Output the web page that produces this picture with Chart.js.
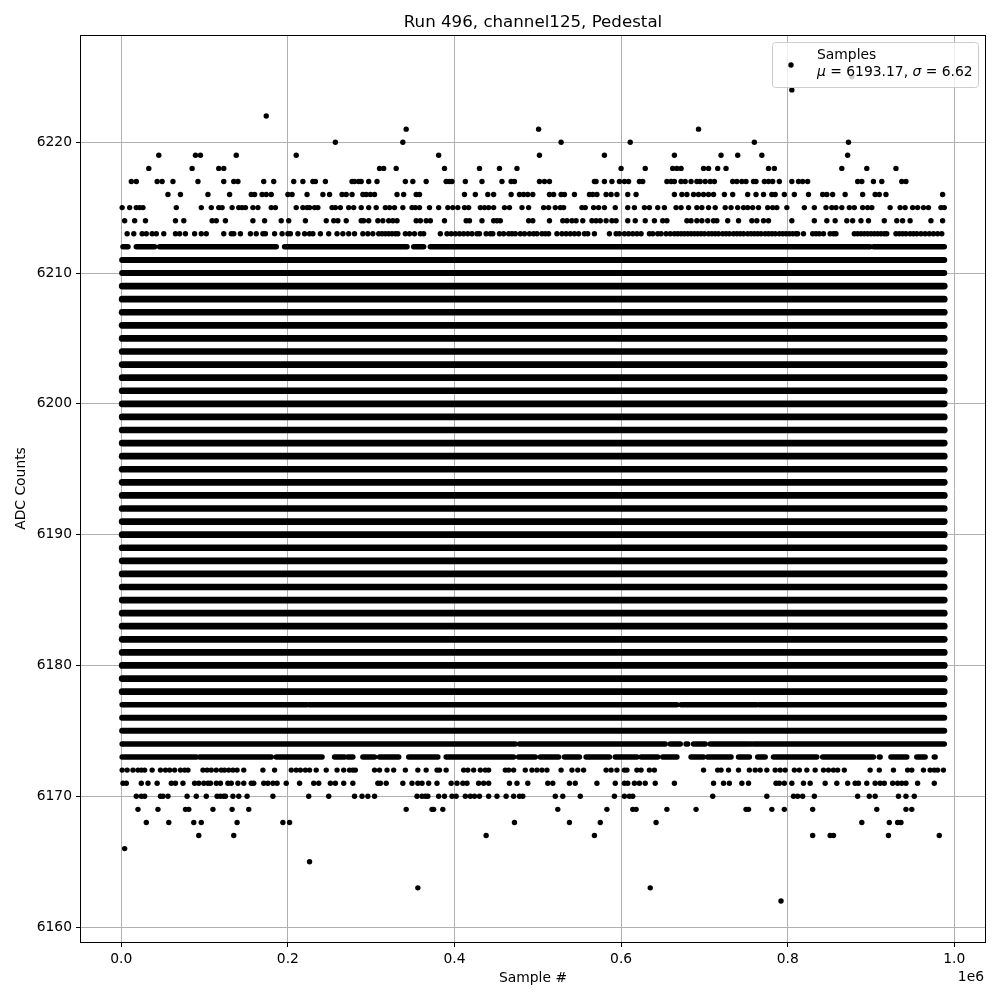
<!DOCTYPE html>
<html>
<head>
<meta charset="utf-8">
<title>Run 496, channel125, Pedestal</title>
<script src="https://cdn.jsdelivr.net/npm/chart.js@4"></script>
<style>
    html, body { margin: 0; padding: 0; background: #fff; }
    canvas { display: block; }
</style>
</head>
<body>
<canvas id="pedestalChart" width="1000" height="1000"></canvas>
<script>
// sample numbers are in thousands
const yTicks = [6160, 6170, 6180, 6190, 6200, 6210, 6220];
const xTicks = [0, 200000, 400000, 600000, 800000, 1000000];
const xTickLabels = ['0.0', '0.2', '0.4', '0.6', '0.8', '1.0'];

// single samples on the sparse rows
const s6225 = [877];
const s6224 = [805];
const s6222 = [174];
const s6221 = [342, 501, 693];
const s6220 = [257, 338, 528, 611, 760, 873];
const s6219 = [45, 89, 95, 138, 210, 381, 502, 580, 664, 720, 740, 769, 872];
const s6218 = [33, 85, 117, 123, 310, 315, 330, 388, 430, 454, 475, 600, 629, 662, 667, 672, 699, 705, 716, 726, 777, 784, 865, 895, 930];
const s6217 = [12, 18, 43, 49, 62, 92, 123, 135, 140, 171, 183, 207, 218, 230, 233, 245, 277, 280, 285, 288, 297, 307,
    341, 350, 366, 390, 394, 397, 413, 433, 457, 468, 472, 502, 508, 514, 568, 570, 580, 589, 598, 604, 609, 622, 626, 655, 660, 664,
    672, 677, 684, 691, 695, 701, 707, 712, 734, 739, 745, 750, 759, 762, 772, 777, 782, 790, 805, 813, 818, 824, 884, 889, 903, 913, 937, 942];
const s6216 = [56, 71, 104, 130, 156, 160, 169, 174, 180, 200, 205, 223, 242, 250, 265, 270, 277, 290, 294, 299, 304, 331,
    339, 354, 358, 412, 425, 440, 447, 468, 478, 483, 488, 494, 514, 519, 528, 532, 544, 562, 566, 571, 582, 588, 595, 608, 618, 664,
    673, 679, 687, 693, 699, 705, 711, 724, 734, 752, 762, 771, 781, 785, 796, 808, 825, 842, 847, 854, 869, 890, 905, 910, 918, 986];
const s6215 = [1, 10, 18, 22, 26, 66, 96, 108, 117, 121, 133, 141, 145, 149, 158, 164, 180, 185, 210, 218, 223, 226, 232, 236, 253, 257, 263, 273, 279, 288, 297, 306, 317, 322, 328,
    338, 349, 353, 358, 370, 381, 392, 398, 404, 412, 417, 431, 436, 441, 447, 460, 466, 481, 489, 507, 513, 521, 527, 531, 553, 557, 567, 573, 580, 593, 608, 616, 628, 634, 644, 652, 666,
    672, 681, 691, 697, 705, 713, 725, 732, 740, 747, 752, 758, 765, 776, 782, 787, 799, 820, 832, 846, 853, 858, 865, 874, 880, 890, 896, 901, 923, 935, 941, 950, 956, 963, 969, 984, 988];
const s6214 = [4, 16, 29, 65, 75, 109, 114, 125, 158, 172, 192, 201, 221, 246, 255, 260, 270, 288, 291, 297, 308, 314, 321, 326, 331,
    354, 359, 366, 371, 388, 414, 418, 433, 447, 451, 455, 489, 494, 514, 530, 535, 541, 546, 554, 565, 570, 575, 582, 589, 594, 608, 617, 629, 640, 650, 655,
    679, 684, 691, 697, 704, 711, 715, 728, 741, 757, 763, 771, 777, 805, 832, 847, 857, 871, 878, 888, 897, 916, 931, 938, 947, 972, 986];
const s6213 = [7, 15, 25, 30, 37, 42, 51, 65, 70, 77, 88, 96, 102, 123, 132, 135, 143, 155, 162, 170, 173, 184, 193, 200, 203, 212, 220, 226, 230, 239, 249, 259, 266, 273, 280, 290, 296, 302, 309, 313, 317, 321, 325, 329, 332,
    341, 346, 352, 359, 363, 383, 391, 396, 401, 406, 411, 416, 421, 427, 430, 438, 443, 446, 454, 459, 465, 469, 473, 479, 484, 490, 495, 499, 505, 509, 513,
    523, 529, 534, 539, 544, 549, 556, 560, 568, 586, 594, 598, 604, 609, 614, 619, 624, 634, 638, 644, 648, 654, 659, 664, 668,
    672, 676, 680, 684, 688, 692, 696, 700, 705, 709, 713, 717, 722, 726, 730, 735, 739, 743, 747, 752, 756, 760, 764, 768, 773, 777, 781, 785, 790, 794, 798, 802, 806, 810, 812,
    819, 830, 834, 838, 843, 851, 855, 858, 880, 884, 888, 892, 896, 900, 904, 908, 912, 916, 919, 930, 934, 938, 942, 947, 951, 955, 960, 965, 970, 975, 980, 985];
const s6172 = [1, 7, 14, 20, 24, 28, 37, 47, 53, 58, 64, 71, 76, 80, 98, 103, 108, 114, 120, 124, 129, 134, 139, 147, 170, 184, 204, 210, 215, 221, 226, 234, 246, 259, 267, 274, 278, 281, 304, 310, 319, 327,
    341, 356, 366, 379, 382, 390, 411, 416, 423, 431, 437, 441, 461, 465, 471, 485, 493, 499, 505, 511, 528, 541, 548, 555, 582, 588, 595, 604, 607, 619, 624, 634, 640,
    699, 716, 720, 729, 741, 754, 761, 767, 775, 785, 791, 797, 808, 814, 823, 833, 843, 849, 855, 860, 868, 899, 910, 927, 944, 949, 963, 971, 976, 980, 987];
const s6171 = [2, 6, 24, 32, 43, 60, 65, 74, 88, 93, 99, 104, 107, 114, 119, 128, 132, 140, 147, 156, 159, 171, 176, 182, 187, 198, 214, 231, 237, 251, 257, 267, 278, 308, 311, 318,
    338, 349, 356, 361, 369, 379, 396, 403, 410, 415, 429, 435, 441, 466, 475, 488, 512, 518, 538, 545, 571, 593, 604, 608, 616, 622, 629, 641, 664,
    711, 723, 730, 745, 753, 786, 790, 796, 805, 819, 827, 845, 859, 872, 881, 885, 895, 905, 911, 916, 926, 932, 937, 942, 956, 976];
const s6170 = [18, 24, 28, 47, 50, 56, 79, 90, 102, 115, 119, 123, 125, 134, 141, 151, 182, 225, 249, 280, 289, 296, 304,
    355, 361, 365, 368, 381, 388, 397, 402, 413, 419, 424, 430, 441, 451, 462, 471, 478, 482, 521, 530, 551, 592, 604, 610, 614,
    710, 775, 807, 812, 818, 832, 884, 898, 905, 933, 942, 952];
const s6169 = [20, 44, 77, 81, 110, 133, 153, 342, 373, 375, 386, 524, 583, 614, 618, 655, 690, 750, 753, 781, 796, 830, 907, 942, 949];
const s6168 = [30, 57, 87, 96, 139, 194, 202, 472, 538, 575, 642, 889, 922, 932, 936];
const s6167 = [93, 135, 438, 568, 830, 851, 855, 921, 982];
const s6166 = [4];
const s6165 = [226];
const s6163 = [356, 635];
const s6162 = [792];

const sparseLevels = [6225, 6224, 6222, 6221, 6220, 6219, 6218, 6217, 6216, 6215, 6214, 6213, 6172, 6171, 6170, 6169, 6168, 6167, 6166, 6165, 6163, 6162];
const sparseSamples = [s6225, s6224, s6222, s6221, s6220, s6219, s6218, s6217, s6216, s6215, s6214, s6213, s6172, s6171, s6170, s6169, s6168, s6167, s6166, s6165, s6163, s6162];

// unbroken runs of samples [first, last] on the busy rows
const r6212 = [[2, 8], [18, 40], [46, 186], [196, 343], [351, 363], [371, 899], [903, 988]];
const r6177 = [[1, 223], [226, 667], [672, 763], [766, 988]];
const r6174 = [[1, 473], [478, 653], [659, 671], [678, 680], [687, 701], [707, 756], [759, 988]];
const r6173 = [[1, 90], [94, 180], [186, 241], [256, 268], [272, 278], [290, 304], [310, 333], [345, 380], [390, 471], [477, 497], [503, 525], [532, 550], [558, 586], [593, 619], [624, 644], [650, 667], [684, 699], [704, 732], [741, 754], [764, 773], [783, 835], [842, 903], [910, 911], [924, 943], [955, 965], [976, 977]];
const runLevels = [6212, 6177, 6174, 6173];
const runSpans = [r6212, r6177, r6174, r6173];

// rows that are filled from end to end
const fullLevels = [6211, 6210, 6209, 6208, 6207, 6206, 6205, 6204, 6203, 6202, 6201, 6200, 6199, 6198, 6197, 6196, 6195, 6194, 6193, 6192, 6191, 6190, 6189, 6188, 6187, 6186, 6185, 6184, 6183, 6182, 6181, 6180, 6179, 6178, 6176, 6175];
const fullSpan = [1, 988];

const datasets = [];

function addRun(level, span, width) {
    datasets.push({
        data: [{ x: span[0] * 1000, y: level }, { x: span[1] * 1000, y: level }],
        showLine: true,
        pointRadius: 0,
        borderColor: '#000',
        borderWidth: width,
        borderCapStyle: 'round'
    });
}

// the outermost full rows are a little thinner than the middle ones
fullLevels.forEach(level => addRun(level, fullSpan, level > 6209 || level < 6177 ? 6 : 6.7));
runLevels.forEach((level, i) => runSpans[i].forEach(span => addRun(level, span, 5.5)));

sparseLevels.forEach((level, i) => {
    datasets.push({
        data: sparseSamples[i].map(k => ({ x: k * 1000, y: level })),
        pointRadius: 2.7,
        pointBorderWidth: 0,
        backgroundColor: '#000'
    });
});

const font = 'DejaVu Sans';

// frame on all four sides, the 1e6 offset and the legend box
const extras = {
    id: 'extras',
    afterDatasetsDraw(chart) {
        const ctx = chart.ctx;
        const area = chart.chartArea;
        ctx.save();

        ctx.strokeStyle = '#000';
        ctx.lineWidth = 1;
        ctx.strokeRect(area.left - 0.5, area.top + 0.5, area.right - area.left + 1, area.bottom - area.top);

        ctx.fillStyle = '#000';
        ctx.font = `13.89px "${font}"`;
        ctx.textAlign = 'right';
        ctx.textBaseline = 'alphabetic';
        ctx.fillText('1e6', 984, 981);

        ctx.beginPath();
        ctx.roundRect(772.5, 42.5, 206, 45, 3);
        ctx.fillStyle = 'rgba(255,255,255,0.8)';
        ctx.fill();
        ctx.strokeStyle = '#ccc';
        ctx.stroke();

        ctx.fillStyle = '#000';
        ctx.beginPath();
        ctx.arc(791, 65, 2.7, 0, Math.PI * 2);
        ctx.fill();

        ctx.textAlign = 'left';
        ctx.fillText('Samples', 817, 59);

        const parts = [['\u03bc', true], [' = 6193.17, ', false], ['\u03c3', true], [' = 6.62', false]];
        let x = 817;
        parts.forEach(([text, italic]) => {
            ctx.font = `${italic ? 'italic ' : ''}13.89px "${font}"`;
            ctx.fillText(text, x, 76);
            x += ctx.measureText(text).width;
        });
        ctx.restore();
    }
};

new Chart(document.getElementById('pedestalChart').getContext('2d'), {
    type: 'scatter',
    data: { datasets },
    options: {
        responsive: false,
        animation: false,
        layout: { padding: { right: 15 } },
        plugins: {
            legend: { display: false },
            tooltip: { enabled: false },
            title: {
                display: true,
                text: 'Run 496, channel125, Pedestal',
                fullSize: false,
                color: '#000',
                font: { family: font, size: 16.67, weight: 'normal', lineHeight: 1.2 },
                padding: { top: 13, bottom: 2 }
            }
        },
        scales: {
            x: {
                type: 'linear',
                min: -48400,
                max: 1036900,
                afterBuildTicks: scale => { scale.ticks = xTicks.map(value => ({ value })); },
                afterFit: scale => { scale.height = 58; },
                grid: { color: '#b0b0b0', lineWidth: 1, tickColor: '#000', tickLength: 5 },
                border: { display: false },
                ticks: {
                    color: '#000',
                    maxRotation: 0,
                    padding: 4,
                    font: { family: font, size: 13.89 },
                    callback: value => xTickLabels[xTicks.indexOf(value)]
                },
                title: {
                    display: true,
                    text: 'Sample #',
                    color: '#000',
                    padding: { top: 3, bottom: 13 },
                    font: { family: font, size: 13.89 }
                }
            },
            y: {
                type: 'linear',
                min: 6158.86,
                max: 6228.196,
                afterBuildTicks: scale => { scale.ticks = yTicks.map(value => ({ value })); },
                afterFit: scale => { scale.width = 81; },
                grid: { color: '#b0b0b0', lineWidth: 1, tickColor: '#000', tickLength: 5 },
                border: { display: false },
                ticks: {
                    color: '#000',
                    padding: 4,
                    font: { family: font, size: 13.89 },
                    callback: value => String(value)
                },
                title: {
                    display: true,
                    text: 'ADC Counts',
                    color: '#000',
                    padding: { top: 13, bottom: 8 },
                    font: { family: font, size: 13.89 }
                }
            }
        }
    },
    plugins: [extras]
});
</script>
</body>
</html>
